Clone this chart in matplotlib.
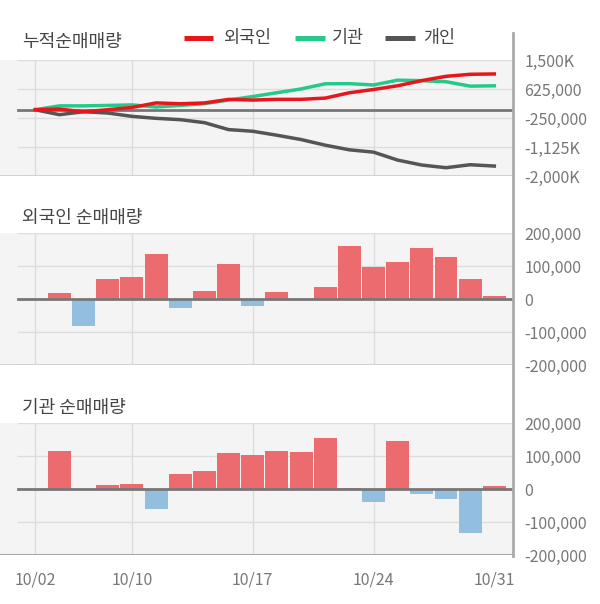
import numpy as np
import matplotlib
matplotlib.use('Agg')
import matplotlib.pyplot as plt
from matplotlib.lines import Line2D

plt.rcParams['font.family'] = ['Noto Sans CJK KR', 'DejaVu Sans']

dates = ['10/02', '10/04', '10/05', '10/06', '10/10', '10/11', '10/12', '10/13',
         '10/16', '10/17', '10/18', '10/19', '10/20', '10/23', '10/24', '10/25',
         '10/26', '10/27', '10/30', '10/31']
label_dates = ['10/02', '10/10', '10/17', '10/24', '10/31']

# daily net buying (shares)
foreign = [0, 19000, -81000, 62000, 68000, 137000, -26000, 25000, 107000, -20000,
           22000, 0, 37000, 162000, 98000, 113000, 156000, 128000, 62000, 10000]
inst = [0, 116000, 0, 13000, 16000, -62000, 46000, 54000, 110000, 104000,
        116000, 113000, 156000, 4000, -40000, 146000, -16000, -31000, -134000, 10000]
# cumulative individual
indiv_cum = [0, -150000, -60000, -100000, -200000, -260000, -300000, -390000, -600000, -650000,
             -770000, -900000, -1070000, -1210000, -1280000, -1520000, -1670000, -1750000,
             -1660000, -1700000]

top_ticks = [1500000, 625000, -250000, -1125000, -2000000]
top_labels = ['1,500K', '625,000', '-250,000', '-1,125K', '-2,000K']
bar_ticks = [200000, 100000, 0, -100000, -200000]
bar_labels = ['200,000', '100,000', '0', '-100,000', '-200,000']

RED = '#e8161b'
GREEN = '#25c98a'
DARK = '#555555'
BAR_UP = '#ec6b6e'
BAR_DN = '#92bee0'
BG = '#f4f4f4'
GRID = '#dddddd'
TXT = '#777777'

W, H = 600, 604
fig = plt.figure(figsize=(W / 100, H / 100), dpi=100)

x = np.arange(len(dates))
xl = (-1.46, 19.76)
grid_x = [dates.index(d) for d in label_dates[:-1]]


def make_ax(top, bottom):
    ax = fig.add_axes([0, 1 - bottom / H, 512.7 / W, (bottom - top) / H])
    ax.set_facecolor(BG)
    ax.set_xlim(*xl)
    for s in ax.spines.values():
        s.set_visible(False)
    ax.yaxis.tick_right()
    ax.tick_params(axis='y', length=0, pad=8.5, labelsize=11.5, labelcolor=TXT)
    ax.tick_params(axis='x', length=0)
    for gx in grid_x:
        ax.axvline(gx, color=GRID, lw=1, zorder=0)
    return ax


# cumulative panel
ax1 = make_ax(60, 176)
ax1.set_ylim(-2000000, 1500000)
for t in top_ticks:
    ax1.axhline(t, xmin=18 / 512.7, color=GRID, lw=1, zorder=0)
ax1.axhline(0, xmin=18 / 512.7, color='#777777', lw=2, zorder=1)
ax1.plot(x, np.cumsum(inst), color=GREEN, lw=2.5, zorder=3)
ax1.plot(x, np.cumsum(foreign), color=RED, lw=2.5, zorder=4)
ax1.plot(x, indiv_cum, color=DARK, lw=2.5, zorder=2)
ax1.set_yticks(top_ticks, top_labels)
ax1.set_xticks([])
ax1.axhline(-2000000, color='#cccccc', lw=1.2)


def bar_panel(top, bottom, vals):
    ax = make_ax(top, bottom)
    ax.set_ylim(-200000, 200000)
    for t in bar_ticks:
        ax.axhline(t, xmin=18 / 512.7, color=GRID, lw=1, zorder=0)
    cols = [BAR_UP if v >= 0 else BAR_DN for v in vals]
    ax.bar(x, vals, width=0.95, color=cols, zorder=2)
    ax.axhline(0, xmin=18 / 512.7, color='#777777', lw=2, zorder=3)
    ax.set_yticks(bar_ticks, bar_labels)
    return ax


ax2 = bar_panel(233, 365, foreign)
ax2.set_xticks([])
ax2.axhline(-200000, color='#cccccc', lw=1.2)

ax3 = bar_panel(423, 555, inst)
ax3.axhline(-200000, color='#aaaaaa', lw=2.2)
ax3.set_xticks([dates.index(d) for d in label_dates], label_dates)
ax3.tick_params(axis='x', pad=12, labelsize=11.5, labelcolor=TXT)

# right vertical axis line
fig.add_artist(Line2D([512.7 / W] * 2, [1 - 33 / H, 1 - 556 / H], color='#aaaaaa', lw=2))

# titles
for txt, yy in [('누적순매매량', 42), ('외국인 순매매량', 218), ('기관 순매매량', 408)]:
    fig.text(22 / W, 1 - yy / H, txt, fontsize=13, color='#444444', va='center', ha='left')

# legend
for x0, x1, tx, c, lab in [(184, 213, 223, RED, '외국인'), (295, 325, 332, GREEN, '기관'),
                           (385, 415, 423, DARK, '개인')]:
    fig.add_artist(Line2D([x0 / W, x1 / W], [1 - 38 / H] * 2, color=c, lw=3.6,
                          solid_capstyle='butt'))
    fig.text(tx / W, 1 - 38 / H, lab, fontsize=12.5, color='#444444', va='center', ha='left')

fig.savefig('out.png', dpi=100)
